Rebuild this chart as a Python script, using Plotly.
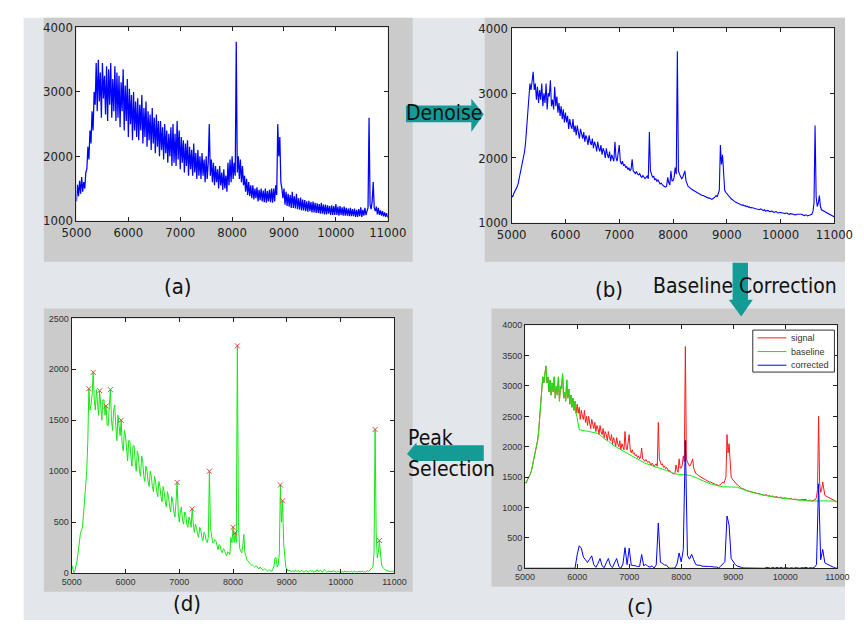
import plotly.graph_objects as go

W, H = 864, 628

# m/z grids: fine (step 20) for the spectra, coarse (step 40) for the baseline fit
mz = list(range(5000, 11001, 20))
mz_coarse = list(range(5000, 11001, 40))

# (a) raw spectrum
raw = [
    1300, 1560, 1380, 1620, 1420, 1680, 1450, 1600, 1500, 1750,
    1800, 2150, 1950, 2400, 2200, 2700, 2400, 3000, 2800, 3450,
    2700, 3500, 2850, 3300, 2600, 3450, 2900, 3250, 2650, 3400,
    2550, 3350, 2800, 3450, 2600, 3200, 2700, 3400, 2550, 3300,
    2600, 3250, 2450, 3150, 2700, 3350, 2400, 3100, 2550, 3200,
    2300, 3050, 2500, 2950, 2250, 3000, 2400, 2850, 2300, 2900,
    2250, 2800, 2400, 2950, 2200, 2750, 2300, 2850, 2150, 2700,
    2250, 2650, 2100, 2750, 2200, 2600, 2050, 2650, 2150, 2550,
    2000, 2550, 2100, 2450, 1950, 2500, 2050, 2400, 1900, 2350,
    2000, 2450, 1850, 2500, 1900, 2350, 1850, 2550, 1950, 2400,
    1800, 2300, 1900, 2250, 1750, 2200, 1850, 2250, 1700, 2150,
    1800, 2100, 1700, 2200, 1750, 2050, 1650, 2100, 1700, 2000,
    1650, 2050, 1700, 1950, 1600, 2000, 1650, 1900, 2500, 1700,
    1950, 1600, 1900, 1550, 1850, 1600, 1800, 1500, 1850, 1550,
    1750, 1480, 1800, 1500, 1700, 1450, 1900, 1550, 1950, 1600,
    2000, 1650, 1900, 1700, 3780, 1750, 2000, 1650, 1950, 1600,
    1850, 1550, 1700, 1450, 1650, 1400, 1600, 1380, 1550, 1350,
    1550, 1330, 1500, 1350, 1520, 1300, 1480, 1320, 1500, 1300,
    1470, 1290, 1500, 1280, 1460, 1300, 1480, 1290, 1500, 1280,
    1500, 1300, 1550, 1400, 2500, 2000, 2300, 1600, 1500, 1350,
    1500, 1250, 1450, 1230, 1420, 1220, 1400, 1200, 1450, 1200,
    1380, 1190, 1420, 1180, 1350, 1170, 1360, 1160, 1330, 1160,
    1320, 1150, 1300, 1140, 1310, 1150, 1290, 1130, 1300, 1130,
    1280, 1120, 1270, 1120, 1260, 1110, 1280, 1110, 1250, 1100,
    1250, 1100, 1240, 1110, 1230, 1090, 1240, 1090, 1230, 1090,
    1260, 1090, 1220, 1080, 1230, 1090, 1210, 1080, 1220, 1080,
    1200, 1080, 1190, 1070, 1200, 1070, 1180, 1070, 1190, 1060,
    1170, 1060, 1180, 1070, 1210, 1060, 1170, 1080, 1200, 1090,
    1150, 1200, 2600, 1250, 1180, 1300, 1600, 1200, 1150, 1220,
    1100, 1200, 1090, 1160, 1080, 1150, 1070, 1130, 1060, 1120,
    1050,
]

# (b) denoised spectrum, also the "signal" of (c)
denoised = [
    1420, 1400, 1450, 1480, 1520, 1550, 1600, 1680, 1750, 1850,
    1950, 2000, 2100, 2250, 2500, 2750, 2950, 3150, 3050, 3200,
    3330, 3050, 3150, 2900, 3100, 2850, 3050, 2900, 3150, 2800,
    3000, 2850, 3150, 2750, 3000, 2950, 3200, 2800, 2900, 2750,
    3100, 2800, 2950, 2700, 2850, 2650, 2800, 2600, 2750, 2550,
    2700, 2550, 2650, 2450, 2600, 2500, 2450, 2600, 2400, 2500,
    2350, 2500, 2400, 2300, 2450, 2350, 2300, 2400, 2250, 2350,
    2300, 2200, 2350, 2250, 2200, 2300, 2150, 2250, 2200, 2100,
    2250, 2150, 2100, 2200, 2050, 2150, 2100, 2000, 2150, 2050,
    2000, 2100, 1950, 2050, 2000, 1950, 2250, 2000, 1950, 2100,
    2200, 1950, 1900, 1950, 1880, 1900, 1850, 1870, 1820, 1850,
    1800, 1830, 1980, 1800, 1780, 1760, 1790, 1750, 1740, 1760,
    1720, 1700, 1730, 1690, 1680, 1700, 1720, 1680, 2400, 1800,
    1750, 1700, 1720, 1660, 1680, 1640, 1660, 1620, 1600, 1610,
    1580, 1570, 1560, 1550, 1560, 1700, 1620, 1580, 1800, 1650,
    1650, 1700, 1850, 1750, 3650, 1800, 1750, 1700, 1680, 1700,
    1750, 1800, 1650, 1600, 1560, 1550, 1530, 1520, 1510, 1500,
    1480, 1470, 1460, 1450, 1440, 1440, 1430, 1420, 1420, 1410,
    1400, 1390, 1390, 1380, 1380, 1370, 1360, 1370, 1380, 1400,
    1420, 1400, 1450, 1500, 2200, 1900, 2050, 1700, 1500, 1470,
    1450, 1420, 1400, 1390, 1370, 1360, 1340, 1330, 1320, 1310,
    1300, 1300, 1290, 1280, 1270, 1275, 1260, 1265, 1250, 1255,
    1240, 1245, 1230, 1235, 1230, 1225, 1220, 1225, 1210, 1215,
    1200, 1210, 1210, 1195, 1190, 1200, 1180, 1185, 1190, 1180,
    1170, 1175, 1180, 1165, 1160, 1170, 1170, 1155, 1150, 1160,
    1160, 1150, 1150, 1145, 1140, 1150, 1150, 1135, 1130, 1140,
    1140, 1130, 1130, 1125, 1120, 1130, 1130, 1120, 1120, 1125,
    1130, 1115, 1110, 1120, 1120, 1105, 1110, 1115, 1120, 1130,
    1170, 1300, 2500, 1400, 1250, 1300, 1420, 1250, 1200, 1190,
    1180, 1170, 1160, 1155, 1150, 1140, 1130, 1120, 1110, 1100,
    1090,
]

# (c) estimated baseline from m/z 6000 on, coarse grid (below 6000 it equals the signal)
baseline_start = 6000
baseline_tail = [
    2480, 2280, 2270, 2265, 2260, 2255, 2250, 2245, 2240, 2235,
    2220, 2190, 2160, 2140, 2110, 2090, 2060, 2040, 2010, 1990,
    1970, 1950, 1930, 1910, 1890, 1870, 1850, 1830, 1810, 1790,
    1770, 1755, 1740, 1725, 1710, 1700, 1690, 1675, 1665, 1655,
    1650, 1640, 1625, 1610, 1595, 1580, 1565, 1555, 1550, 1548,
    1545, 1545, 1545, 1540, 1530, 1520, 1510, 1500, 1480, 1460,
    1445, 1430, 1410, 1400, 1390, 1380, 1370, 1360, 1355, 1345,
    1340, 1340, 1340, 1340, 1340, 1340, 1340, 1335, 1320, 1305,
    1295, 1285, 1270, 1260, 1250, 1240, 1230, 1225, 1220, 1210,
    1200, 1195, 1185, 1180, 1175, 1170, 1165, 1160, 1155, 1150,
    1150, 1145, 1140, 1140, 1130, 1130, 1125, 1120, 1120, 1115,
    1115, 1110, 1110, 1105, 1105, 1110, 1110, 1110, 1110, 1110,
    1110, 1110, 1110, 1110, 1105,
    1090,
]

# (d) spectrum after peak selection, with the picked peaks
selected = [
    80, 30, 5, 20, 60, 120, 200, 300, 380, 420,
    450, 580, 700, 850, 1000, 1300, 1810, 1600, 1650, 1750,
    1970, 1700, 1600, 1800, 1650, 1550, 1790, 1600, 1500, 1700,
    1700, 1550, 1640, 1450, 1450, 1650, 1800, 1500, 1400, 1600,
    1650, 1450, 1300, 1550, 1400, 1350, 1500, 1250, 1200, 1400,
    1350, 1200, 1100, 1300, 1300, 1150, 1050, 1250, 1250, 1100,
    1000, 1200, 1150, 1000, 950, 1150, 1100, 950, 900, 1050,
    1000, 900, 850, 1000, 950, 850, 800, 950, 900, 800,
    750, 900, 850, 750, 700, 850, 800, 700, 650, 800,
    750, 650, 600, 750, 700, 600, 550, 700, 890, 600,
    500, 600, 650, 520, 480, 600, 580, 480, 450, 550,
    520, 450, 630, 480, 400, 480, 450, 380, 350, 450,
    420, 350, 320, 400, 380, 320, 300, 350, 1000, 450,
    350, 300, 300, 330, 320, 260, 230, 280, 270, 220,
    200, 240, 230, 190, 170, 210, 200, 180, 350, 300,
    450, 300, 395, 300, 2230, 500, 250, 220, 200, 260,
    380, 200, 150, 130, 120, 100, 90, 80, 80, 70,
    60, 70, 70, 50, 40, 60, 50, 40, 30, 40,
    40, 30, 20, 30, 30, 20, 20, 40, 60, 150,
    150, 60, 80, 200, 865, 500, 710, 300, 150, 60,
    40, 20, 30, 25, 15, 20, 25, 10, 30, 20,
    15, 25, 10, 20, 30, 15, 10, 20, 25, 15,
    10, 20, 30, 15, 25, 10, 20, 15, 35, 20,
    15, 30, 20, 10, 25, 35, 20, 10, 15, 20,
    15, 20, 10, 25, 20, 15, 10, 20, 15, 10,
    20, 10, 15, 10, 20, 15, 10, 20, 10, 15,
    20, 10, 15, 20, 10, 15, 10, 20, 10, 15,
    20, 10, 15, 10, 20, 25, 15, 30, 40, 50,
    60, 200, 1410, 400, 150, 200, 320, 150, 80, 60,
    40, 35, 30, 25, 20, 20, 15, 20, 15, 20,
    10,
]
peak_mz = [5320, 5400, 5520, 5640, 5720, 5920, 6960, 7240, 7560,
           8000, 8040, 8080, 8880, 8920, 10640, 10720]
peak_val = [1810, 1970, 1790, 1640, 1800, 1500, 890, 630, 1000,
            450, 395, 2230, 865, 710, 1410, 320]

legend_names = ["signal", "baseline", "corrected"]

# baseline: signal below 6000, fitted curve above; corrected = signal - baseline
signal_at = dict(zip(mz, denoised))
n_fine = mz.index(baseline_start)
tail_mz = mz_coarse[mz_coarse.index(baseline_start):]
baseline_x = mz[:n_fine] + tail_mz
baseline_y = denoised[:n_fine] + baseline_tail
corrected_x = mz_coarse
corrected_y = ([0] * mz_coarse.index(baseline_start)
               + [max(0, signal_at[m] - b) for m, b in zip(tail_mz, baseline_tail)])

BLUE = "#0000ff"
RED = "#ff1a1a"
GREEN = "#16e616"
TEAL = "#139b96"
PAGE = "#e3e6eb"
FRAME = "#cbcbcb"


# page pixel -> paper fraction
def px_x(x):
    return x / W


def px_y(y):
    return 1 - y / H


fig = go.Figure()

fig.add_trace(go.Scatter(x=mz, y=raw, mode="lines", line=dict(color=BLUE, width=1.25),
                         showlegend=False, xaxis="x", yaxis="y"))
fig.add_trace(go.Scatter(x=mz, y=denoised, mode="lines", line=dict(color=BLUE, width=1.1),
                         showlegend=False, xaxis="x2", yaxis="y2"))
fig.add_trace(go.Scatter(x=mz, y=denoised, mode="lines", name=legend_names[0],
                         line=dict(color=RED, width=1), showlegend=False,
                         xaxis="x3", yaxis="y3"))
fig.add_trace(go.Scatter(x=baseline_x, y=baseline_y, mode="lines", name=legend_names[1],
                         line=dict(color=GREEN, width=1), showlegend=False,
                         xaxis="x3", yaxis="y3"))
fig.add_trace(go.Scatter(x=corrected_x, y=corrected_y, mode="lines", name=legend_names[2],
                         line=dict(color=BLUE, width=1), showlegend=False,
                         xaxis="x3", yaxis="y3"))
fig.add_trace(go.Scatter(x=mz, y=selected, mode="lines", line=dict(color=GREEN, width=1),
                         showlegend=False, xaxis="x4", yaxis="y4"))
fig.add_trace(go.Scatter(x=peak_mz, y=peak_val, mode="markers",
                         marker=dict(symbol="x-thin", size=5,
                                     line=dict(width=1, color="#e04848")),
                         showlegend=False, xaxis="x4", yaxis="y4"))

# plot-area boxes in pixels: (left, top, right, bottom)
boxes = {
    "a": (64, 21, 388, 219),
    "b": (517, 22, 853, 221),
    "c": (531, 326, 856, 575),
    "d": (59, 319, 395, 580),
}
frames = [(30, 11, 414, 261), (489, 11, 864, 261), (496, 309, 864, 594), (30, 309, 414, 599)]

big_tick = dict(family="Liberation Sans Narrow, DejaVu Sans Condensed, sans-serif",
                size=13, color="#222")
small_tick = dict(family="Liberation Sans, Arial, sans-serif", size=9, color="#333")


def axis_pair(box, yr, ydtick, tfont):
    l, t, r, b = box
    common = dict(showline=True, linecolor="#222", linewidth=1, mirror="ticks",
                  ticks="inside", ticklen=4, tickcolor="#222", showgrid=False,
                  zeroline=False, tickfont=tfont, fixedrange=True, tickformat="d")
    xa = dict(domain=[px_x(l), px_x(r)], range=[5000, 11000], tick0=5000, dtick=1000,
              **common)
    ya = dict(domain=[px_y(b), px_y(t)], range=yr, tick0=yr[0], dtick=ydtick, **common)
    return xa, ya


xa, ya = axis_pair(boxes["a"], [1000, 4000], 1000, big_tick)
xb, yb = axis_pair(boxes["b"], [1000, 4000], 1000, big_tick)
xc, yc = axis_pair(boxes["c"], [0, 4000], 500, small_tick)
xd, yd = axis_pair(boxes["d"], [0, 2500], 500, small_tick)
xa.update(anchor="y"); ya.update(anchor="x")
xb.update(anchor="y2"); yb.update(anchor="x2")
xc.update(anchor="y3"); yc.update(anchor="x3")
xd.update(anchor="y4"); yd.update(anchor="x4")


def rect(l, t, r, b, color, layer="below", line=None):
    return dict(type="rect", xref="paper", yref="paper", layer=layer,
                x0=px_x(l), x1=px_x(r), y0=px_y(b), y1=px_y(t),
                fillcolor=color, line=line or dict(width=0))


shapes = [rect(9, 11, W, H, PAGE)]
for fr in frames:
    shapes.append(rect(*fr, FRAME))
for bx in boxes.values():
    shapes.append(rect(*bx, "white"))

annotations = []

# legend box for panel (c)
shapes.append(rect(768, 331, 853, 374, "white", layer="above",
                   line=dict(color="#333", width=1)))
for i, (name, col) in enumerate(zip(legend_names, [RED, GREEN, BLUE])):
    yy = 339 + 14 * i
    shapes.append(dict(type="line", xref="paper", yref="paper", layer="above",
                       x0=px_x(773), x1=px_x(803), y0=px_y(yy), y1=px_y(yy),
                       line=dict(color=col, width=1)))
    annotations.append(dict(text=name, x=px_x(806), y=px_y(yy), xref="paper",
                            yref="paper", showarrow=False, xanchor="left",
                            yanchor="middle",
                            font=dict(family="Liberation Sans, Arial, sans-serif",
                                      size=9, color="#333")))


def arrow(points):
    d = "M " + " L ".join(f"{px_x(x):.5f},{px_y(y):.5f}" for x, y in points) + " Z"
    return dict(type="path", xref="paper", yref="paper", path=d, layer="above",
                fillcolor=TEAL, line=dict(width=0))


shapes.append(arrow([(407, 101), (475, 101), (475, 94), (488, 110), (475, 128),
                     (475, 118), (407, 118)]))
shapes.append(arrow([(747, 262), (763, 262), (763, 300), (768, 300), (756, 317),
                     (743, 300), (747, 300)]))
shapes.append(arrow([(488, 449), (418, 449), (418, 446), (408, 458), (418, 467),
                     (418, 465), (488, 465)]))

label_font = dict(family="DejaVu Sans Condensed, DejaVu Sans, sans-serif", size=21,
                  color="#111")


def text(s, x, y, size=21, xanchor="center"):
    f = dict(label_font)
    f["size"] = size
    annotations.append(dict(text=s, x=px_x(x), y=px_y(y), xref="paper", yref="paper",
                            showarrow=False, xanchor=xanchor, yanchor="middle", font=f))


text("(a)", 170, 286, 22)
text("(b)", 618, 289, 22)
text("(c)", 651, 614, 22)
text("(d)", 179, 611, 22)
text("Denoise", 447, 109)
text("Baseline Correction", 760, 286, 21)
text("Peak", 407, 442, xanchor="left")
text("Selection", 407, 473, xanchor="left")

fig.update_layout(
    width=W, height=H, margin=dict(l=0, r=0, t=0, b=0),
    paper_bgcolor="white", plot_bgcolor="rgba(0,0,0,0)",
    xaxis=xa, yaxis=ya, xaxis2=xb, yaxis2=yb, xaxis3=xc, yaxis3=yc,
    xaxis4=xd, yaxis4=yd,
    shapes=shapes, annotations=annotations, showlegend=False,
)

fig.write_html("out.html")
